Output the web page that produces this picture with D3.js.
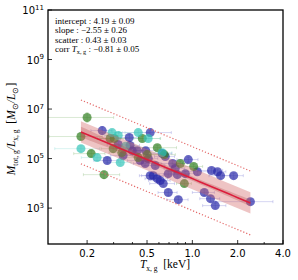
<!DOCTYPE html>
<html lang="en">
<head>
	<meta charset="utf-8"/>
	<title>M/L vs T</title>
	<script src="https://d3js.org/d3.v7.min.js"></script>
	<style>
		body { margin: 0; background: #fff; }
	</style>
</head>
<body>
<script>
// data: temperature in keV, mass-to-light as log10
	var blueT   = [0.252, 0.381, 0.272, 0.322, 0.386, 0.399, 0.347, 0.525, 0.940, 0.661, 0.631, 0.486, 0.567, 1.08, 0.692, 0.795, 0.898, 0.550, 0.585, 0.612, 0.641, 0.692, 0.807, 0.525, 1.34, 1.47, 1.54, 1.88, 1.20, 1.32, 1.42, 2.43, 0.45, 0.51, 0.74, 0.77, 0.43, 0.49];
	var blueML  = [6.13, 5.85, 4.92, 5.57, 5.53, 5.32, 5.12, 6.05, 4.96, 5.08, 5.20, 4.80, 4.72, 4.47, 4.39, 4.35, 4.39, 4.31, 4.19, 4.11, 3.99, 3.63, 3.34, 4.31, 4.52, 4.47, 4.31, 4.31, 3.63, 3.38, 3.10, 3.26, 4.92, 5.00, 4.80, 4.60, 5.32, 5.32];
	var blueXerr = [0.04, 0.06, 0.05, 0.05, 0.06, 0.07, 0.06, 0.20, 0.15, 0.10, 0.10, 0.08, 0.09, 0.20, 0.12, 0.15, 0.14, 0.09, 0.10, 0.10, 0.12, 0.10, 0.13, 0.08, 0.25, 0.20, 0.25, 0.30, 0.20, 0.20, 0.25, 1.0, 0.08, 0.08, 0.12, 0.12, 0.07, 0.08];
	var blueYerr = [0.15, 0.12, 0.10, 0.12, 0.10, 0.12, 0.10, 0.10, 0.10, 0.10, 0.12, 0.10, 0.10, 0.12, 0.10, 0.10, 0.10, 0.10, 0.12, 0.10, 0.10, 0.12, 0.12, 0.10, 0.10, 0.10, 0.12, 0.10, 0.12, 0.12, 0.10, 0.10, 0.10, 0.10, 0.12, 0.10, 0.10, 0.10];

	var greenT   = [0.200, 0.182, 0.284, 0.303, 0.213, 0.298, 0.259, 0.465, 0.585, 0.651, 0.437, 0.501, 0.832, 1.02, 0.885, 0.34];
	var greenML  = [6.66, 5.89, 5.81, 5.81, 5.20, 5.40, 4.35, 5.81, 5.44, 5.16, 5.04, 5.16, 4.80, 4.68, 3.99, 5.24];
	var greenXerr = [0.10, 0.07, 0.05, 0.06, 0.05, 0.05, 0.07, 0.15, 0.20, 0.12, 0.10, 0.10, 0.10, 0.15, 0.10, 0.06];
	var greenYerr = [0.20, 0.12, 0.10, 0.10, 0.12, 0.10, 0.15, 0.10, 0.10, 0.10, 0.10, 0.10, 0.10, 0.10, 0.12, 0.10];

	var cyanT   = [0.293, 0.322, 0.437, 0.182, 0.233, 0.332, 0.509, 0.631, 0.36];
	var cyanML  = [6.05, 5.93, 6.05, 5.40, 5.04, 4.84, 5.81, 5.24, 5.50];
	var cyanXerr = [0.05, 0.06, 0.08, 0.06, 0.05, 0.06, 0.10, 0.10, 0.06];
	var cyanYerr = [0.10, 0.12, 0.10, 0.12, 0.12, 0.10, 0.10, 0.10, 0.10];

// fit results shown in the box
	var intercept = 4.19, interceptErr = 0.09;
	var slope = -2.55, slopeErr = 0.26;
	var scatter = 0.43, scatterErr = 0.03;
	var corr = -0.81, corrErr = 0.05;
	var fitRange = [0.182, 2.43];

	var xTicks = [0.2, 0.5, 1.0, 2.0, 4.0];
	var xMinor = [0.3, 0.4, 0.6, 0.7, 0.8, 0.9, 3.0];
	var yTicks = [3, 5, 7, 9, 11]; // exponents

	var w = 298;
	var h = 280;
	var pLeft = 48, pRight = 283, pTop = 10, pBottom = 244;

	var xScale = d3.scaleLog().domain([0.11, 4.0]).range([pLeft, pRight]);
	var yScale = d3.scaleLog().domain([Math.pow(10, 1.55), 1e11]).range([pBottom, pTop]);

	var svg = d3.select("body").append("svg")
		.attr("width", w)
		.attr("height", h);

	svg.append("clipPath").attr("id", "clip")
		.append("rect")
		.attr("x", pLeft).attr("y", pTop)
		.attr("width", pRight - pLeft).attr("height", pBottom - pTop);

	var plot = svg.append("g").attr("clip-path", "url(#clip)");

	var groups = [
		{T: blueT, ML: blueML, xe: blueXerr, ye: blueYerr, fill: "#2828a8", err: "#7f7fd6"},
		{T: greenT, ML: greenML, xe: greenXerr, ye: greenYerr, fill: "#2f7d1e", err: "#86ba78"},
		{T: cyanT, ML: cyanML, xe: cyanXerr, ye: cyanYerr, fill: "#35c4b9", err: "#86d8d2"}
	];

// error bars first, all groups
	groups.forEach(function(g) {
		var rows = g.T.map(function(t, i) {return {t: t, l: g.ML[i], xe: g.xe[i], ye: g.ye[i]};});
		var eb = plot.append("g")
			.attr("stroke", g.err)
			.attr("stroke-opacity", 0.4)
			.attr("stroke-width", 0.8);
		rows.forEach(function(d) {
			var cy = yScale(Math.pow(10, d.l));
			var cx = xScale(d.t);
			var x0 = xScale(Math.max(d.t - d.xe, 0.01));
			var x1 = xScale(d.t + d.xe);
			var y0 = yScale(Math.pow(10, d.l - d.ye));
			var y1 = yScale(Math.pow(10, d.l + d.ye));
			eb.append("line").attr("x1", x0).attr("x2", x1).attr("y1", cy).attr("y2", cy);
			eb.append("line").attr("x1", cx).attr("x2", cx).attr("y1", y0).attr("y2", y1);
			[x0, x1].forEach(function(x) {
				eb.append("line").attr("x1", x).attr("x2", x).attr("y1", cy - 1.5).attr("y2", cy + 1.5);
			});
			[y0, y1].forEach(function(y) {
				eb.append("line").attr("x1", cx - 1.5).attr("x2", cx + 1.5).attr("y1", y).attr("y2", y);
			});
		});
	});

// the points
	groups.forEach(function(g) {
		plot.append("g").selectAll("circle")
			.data(g.T.map(function(t, i) {return [t, g.ML[i]];}))
			.enter()
			.append("circle")
			.attr("cx", function(d) {return xScale(d[0]);})
			.attr("cy", function(d) {return yScale(Math.pow(10, d[1]));})
			.attr("r", 4.5)
			.attr("fill", g.fill)
			.attr("fill-opacity", 0.7);
	});

// fit line, scatter band and confidence band
	var grid = d3.range(0, 41).map(function(i) {
		return Math.pow(10, Math.log10(fitRange[0]) + i / 40 * (Math.log10(fitRange[1]) - Math.log10(fitRange[0])));
	});
	function fit(t) {return intercept + slope * Math.log10(t);}
	function conf(t) {var lt = Math.log10(t); return Math.sqrt(interceptErr * interceptErr + slopeErr * slopeErr * lt * lt);}

	var band = d3.area()
		.x(function(d) {return xScale(d.t);})
		.y0(function(d) {return yScale(Math.pow(10, d.lo));})
		.y1(function(d) {return yScale(Math.pow(10, d.hi));});

	plot.append("path")
		.datum(grid.map(function(t) {return {t: t, lo: fit(t) - scatter, hi: fit(t) + scatter};}))
		.attr("d", band)
		.attr("fill", "#d26464")
		.attr("fill-opacity", 0.38);

	plot.append("path")
		.datum(grid.map(function(t) {return {t: t, lo: fit(t) - conf(t), hi: fit(t) + conf(t)};}))
		.attr("d", band)
		.attr("fill", "#b84848")
		.attr("fill-opacity", 0.3);

	var line = d3.line()
		.x(function(d) {return xScale(d[0]);})
		.y(function(d) {return yScale(Math.pow(10, d[1]));});

	plot.append("path")
		.datum(grid.map(function(t) {return [t, fit(t)];}))
		.attr("d", line)
		.attr("fill", "none")
		.attr("stroke", "#dc1e3c")
		.attr("stroke-width", 1.6);

	[-3, 3].forEach(function(k) {
		plot.append("path")
			.datum(grid.map(function(t) {return [t, fit(t) + k * scatter];}))
			.attr("d", line)
			.attr("fill", "none")
			.attr("stroke", "#e46a6a")
			.attr("stroke-width", 1.2)
			.attr("stroke-dasharray", "1.2,2");
	});

// ticks, inward
	var axes = svg.append("g").attr("stroke", "#000").attr("stroke-width", 0.8);
	xTicks.forEach(function(v) {
		axes.append("line").attr("x1", xScale(v)).attr("x2", xScale(v)).attr("y1", pBottom).attr("y2", pBottom - 4);
	});
	xMinor.forEach(function(v) {
		axes.append("line").attr("x1", xScale(v)).attr("x2", xScale(v)).attr("y1", pBottom).attr("y2", pBottom - 2);
	});
	yTicks.forEach(function(e) {
		axes.append("line").attr("x1", pLeft).attr("x2", pLeft + 4).attr("y1", yScale(Math.pow(10, e))).attr("y2", yScale(Math.pow(10, e)));
	});

	svg.append("rect")
		.attr("x", pLeft).attr("y", pTop)
		.attr("width", pRight - pLeft).attr("height", pBottom - pTop)
		.attr("fill", "none")
		.attr("stroke", "#000")
		.attr("stroke-width", 1.3);

// tick labels
	svg.selectAll(".xlab")
		.data(xTicks)
		.enter()
		.append("text")
		.attr("x", function(d) {return xScale(d);})
		.attr("y", 257)
		.attr("text-anchor", "middle")
		.attr("font-family", "DejaVu Sans")
		.attr("font-size", "10px")
		.text(function(d) {return d.toFixed(1);});

	yTicks.forEach(function(e) {
		var t = svg.append("text")
			.attr("x", 44)
			.attr("y", yScale(Math.pow(10, e)) + 4)
			.attr("text-anchor", "end")
			.attr("font-family", "DejaVu Sans")
			.attr("font-size", "10px");
		t.append("tspan").text("10");
		t.append("tspan").attr("dy", -4.5).attr("font-size", "7px").text(e);
	});

// axis titles
	var serif = "Liberation Serif";
	var xl = svg.append("text")
		.attr("x", 165)
		.attr("y", 268)
		.attr("text-anchor", "middle")
		.attr("font-family", serif)
		.attr("font-size", "11.5px");
	xl.append("tspan").attr("font-style", "italic").text("T");
	xl.append("tspan").attr("dy", 2.5).attr("font-size", "7.5px").text("x, g");
	xl.append("tspan").attr("dy", -2.5).text("\u2002[keV]");

	var yl = svg.append("text")
		.attr("transform", "translate(15,129) rotate(-90)")
		.attr("text-anchor", "middle")
		.attr("font-family", serif)
		.attr("font-size", "11.5px");
	yl.append("tspan").attr("font-style", "italic").text("M");
	yl.append("tspan").attr("dy", 2.5).attr("font-size", "7.5px").text("tot, g");
	yl.append("tspan").attr("dy", -2.5).attr("font-style", "italic").text("/L");
	yl.append("tspan").attr("dy", 2.5).attr("font-size", "7.5px").text("x, g");
	yl.append("tspan").attr("dy", -2.5).text("\u2002[");
	yl.append("tspan").attr("font-style", "italic").text("M");
	yl.append("tspan").attr("dy", 2.5).attr("font-size", "7.5px").text("\u2299");
	yl.append("tspan").attr("dy", -2.5).attr("font-style", "italic").text("/L");
	yl.append("tspan").attr("dy", 2.5).attr("font-size", "7.5px").text("\u2299");
	yl.append("tspan").attr("dy", -2.5).text("]");

// fit summary box
	function pm(v, e) {return (v < 0 ? "\u2212" + Math.abs(v).toFixed(2) : v.toFixed(2)) + " \u00b1 " + e.toFixed(2);}
	var info = [
		["intercept : ", pm(intercept, interceptErr)],
		["slope : ", pm(slope, slopeErr)],
		["scatter : ", pm(scatter, scatterErr)],
		["corr ", pm(corr, corrErr)]
	];
	info.forEach(function(r, i) {
		var t = svg.append("text")
			.attr("x", 55)
			.attr("y", 23.5 + i * 9.6)
			.attr("font-family", serif)
			.attr("font-size", "9px");
		t.append("tspan").text(r[0]);
		if (i == 3) {
			t.append("tspan").attr("font-style", "italic").text("T");
			t.append("tspan").attr("dy", 2).attr("font-size", "6.3px").text("x, g");
			t.append("tspan").attr("dy", -2).text(" : ");
		}
		t.append("tspan").text(r[1]);
	});
</script>
</body>
</html>
